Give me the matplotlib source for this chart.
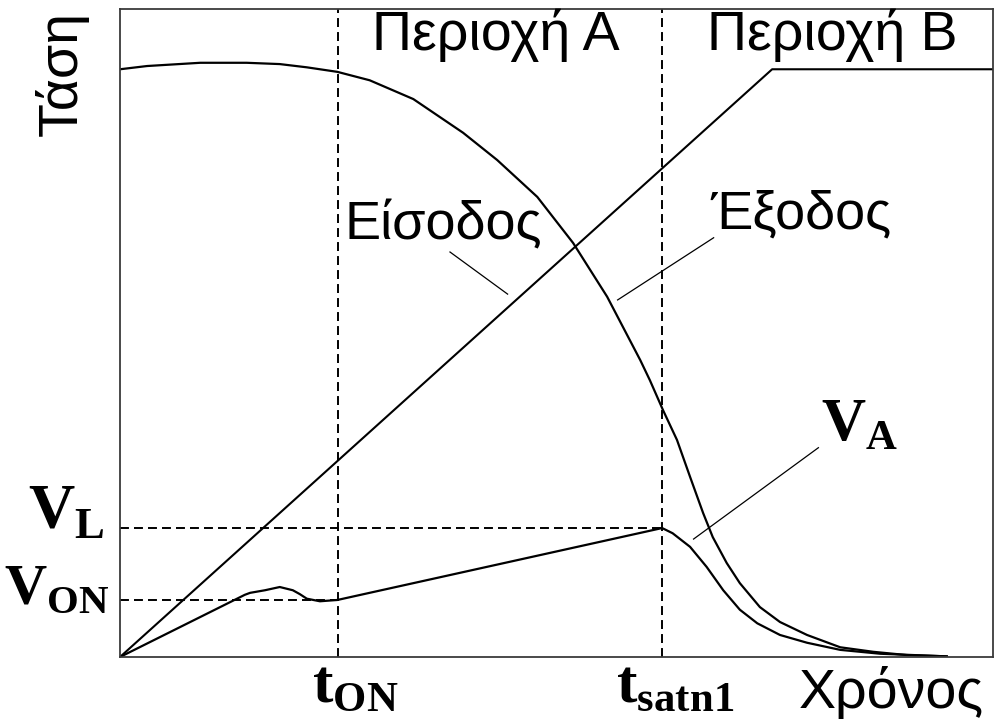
import numpy as np
import matplotlib
matplotlib.use("Agg")
from matplotlib import pyplot as plt

plt.rcParams['font.family'] = ['Liberation Sans', 'DejaVu Sans']
plt.rcParams['mathtext.fontset'] = 'custom'
plt.rcParams['mathtext.rm'] = 'Liberation Serif'
plt.rcParams['mathtext.bf'] = 'Liberation Serif:bold'

# time / voltage in arbitrary units (0..100)
t_on = 25.0
t_sat = 62.1
v_l = 19.9
v_on = 8.8

# input ramp, then saturates
input_t = [0.0, 74.7, 100.0]
input_v = [0.0, 90.7, 90.7]

# output voltage
output_t = [0.0, 3.1, 9.2, 14.5, 18.3, 21.4, 24.9, 28.6, 33.6, 39.3, 43.2, 47.8,
            51.9, 55.8, 59.6, 60.7, 62.2, 63.8, 65.3, 66.8, 67.9, 69.5, 71.0,
            73.3, 75.6, 78.7, 82.5, 86.3, 90.1, 94.7]
output_v = [90.7, 91.2, 91.7, 91.7, 91.5, 91.0, 90.3, 89.0, 86.1, 80.9, 76.7, 71.0,
            63.9, 55.6, 45.8, 42.7, 38.1, 33.5, 27.8, 22.2, 18.5, 14.5, 11.4,
            7.7, 5.4, 3.4, 1.5, 0.8, 0.3, 0.1]

# internal node V_A
va_t = [0.0, 14.3, 14.9, 16.6, 18.3, 19.8, 20.6, 21.4, 22.9, 24.9, 62.1, 63.3,
        65.3, 67.2, 69.1, 71.0, 73.0, 75.6, 78.7, 82.5, 87.1, 94.7]
va_v = [0.0, 9.6, 9.9, 10.3, 10.8, 10.3, 9.7, 9.0, 8.6, 8.8, 19.9, 19.1,
        17.0, 13.9, 10.3, 7.3, 5.2, 3.4, 2.2, 1.1, 0.5, 0.1]

fig = plt.figure(figsize=(9.95, 7.19), dpi=100)
ax = fig.add_axes([120 / 995, 62 / 719, 873 / 995, 648 / 719])
ax.set_xlim(0, 100)
ax.set_ylim(0, 100)
ax.set_xticks([])
ax.set_yticks([])
for s in ax.spines.values():
    s.set_linewidth(1.3)
    s.set_color('#3a3a3a')

dash = (0, (4.6, 2.6))
ax.plot([t_on, t_on], [0, 100], color='black', lw=1.4, ls=dash)
ax.plot([t_sat, t_sat], [0, 100], color='black', lw=1.4, ls=dash)
ax.plot([0, t_sat], [v_l, v_l], color='black', lw=1.4, ls=dash)
ax.plot([0, t_on], [v_on, v_on], color='black', lw=1.4, ls=dash)

ax.plot(input_t, input_v, color='black', lw=1.5)
ax.plot(output_t, output_v, color='black', lw=1.6, solid_joinstyle='round')
ax.plot(va_t, va_v, color='black', lw=1.6, solid_joinstyle='round')

# labels with leader lines
ax.text(37.0, 64.4, 'Είσοδος', fontsize=39, ha='center', va='baseline')
ax.plot([37.8, 44.4], [62.5, 56.0], color='black', lw=0.9)
ax.text(78.0, 66.2, 'Έξοδος', fontsize=39, ha='center', va='baseline')
ax.plot([68.0, 57.0], [64.7, 55.1], color='black', lw=0.9)
ax.text(80.3, 33.5, r'$\mathbf{V}_{\mathbf{A}}$', fontsize=44, ha='left', va='baseline')
ax.plot([80.0, 65.7], [32.3, 18.2], color='black', lw=0.9)

ax.text(43.0, 93.7, 'Περιοχή A', fontsize=40, ha='center', va='baseline')
ax.text(81.6, 93.7, 'Περιοχή B', fontsize=40, ha='center', va='baseline')

ax.text(-1.7, v_l, r'$\mathbf{V}_{\mathbf{L}}$', fontsize=46, ha='right', va='baseline', clip_on=False)
ax.text(-1.2, v_on - 0.5, r'$\mathbf{V}_{\mathbf{ON}}$', fontsize=42, ha='right', va='baseline', clip_on=False)
ax.text(27.0, -6.9, r'$\mathbf{t}_{\mathbf{ON}}$', fontsize=44, ha='center', va='baseline', clip_on=False)
ax.text(63.6, -6.9, r'$\mathbf{t}_{\mathbf{satn1}}$', fontsize=44, ha='center', va='baseline', clip_on=False)

fig.text(62 / 995, 1 - 74 / 719, 'Τάση', fontsize=40, rotation=90, ha='center', va='center')
fig.text(891 / 995, 11 / 719, 'Χρόνος', fontsize=40, ha='center', va='baseline')

fig.savefig('out.png', dpi=100)
